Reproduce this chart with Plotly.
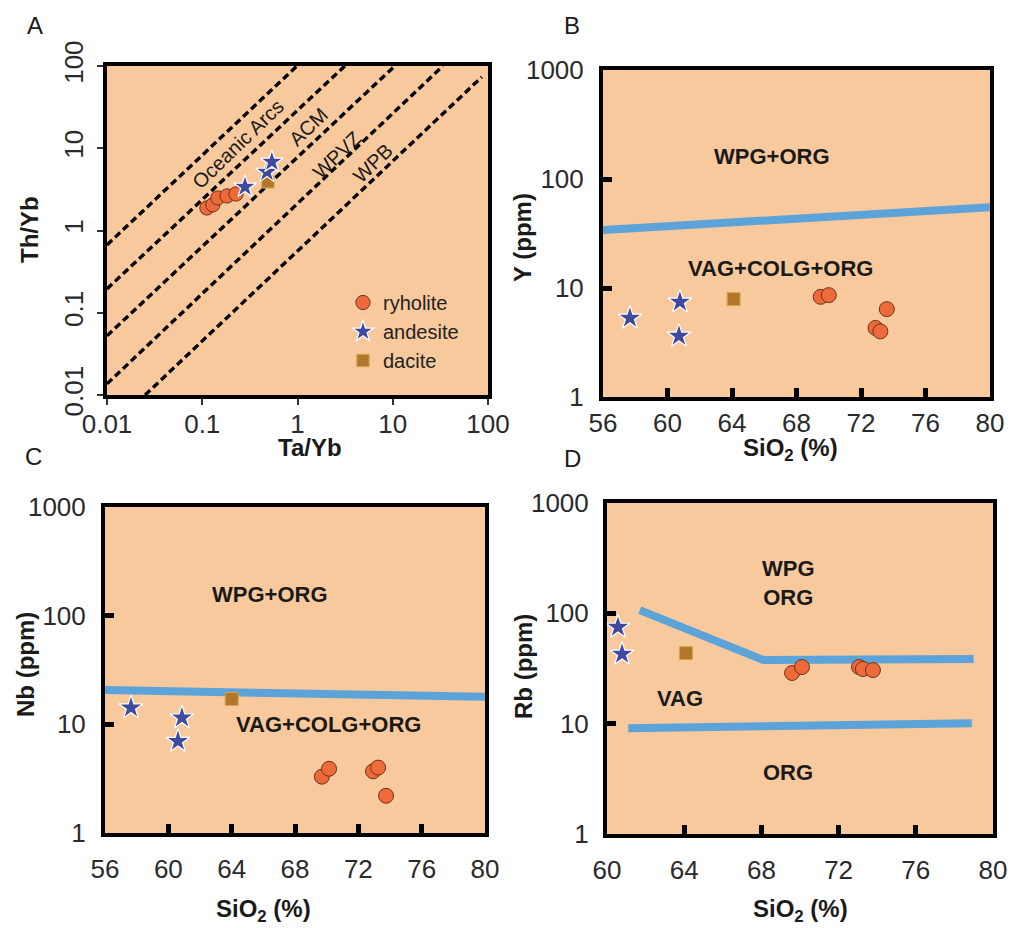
import numpy as np
import plotly.graph_objects as go

W, H = 1012, 928
FONT = "Liberation Sans, Arial, Helvetica, sans-serif"
BG = "#F8C99C"
BLUE = "#5BA3D8"
C_RHY = "#EE6A3A"
C_AND = "#3D4A9E"
C_DAC = "#B1782D"

# ---------------- Panel A : Th/Yb vs Ta/Yb ----------------
a_rhy_x = [0.112, 0.129, 0.146, 0.182, 0.226]
a_rhy_y = [1.88, 2.05, 2.49, 2.63, 2.78]
a_and_x = [0.281, 0.478, 0.538]
a_and_y = [3.39, 5.15, 6.82]
a_dac_x = [0.49]
a_dac_y = [3.9]
# dashed boundary lines (two end points each)
a_lines_x = [[0.01, 0.986], [0.01, 3.14], [0.01, 10.5], [0.01, 33.6], [0.0251, 86.1]]
a_lines_y = [[0.668, 100], [0.195, 100], [0.0524, 100], [0.01368, 100], [0.01, 73.5]]
a_labels = ["Oceanic Arcs", "ACM", "WPVZ", "WPB"]
a_lab_x = [0.237, 1.29, 2.59, 6.18]
a_lab_y = [11.3, 18.2, 8.3, 6.6]
a_ticks = [0.01, 0.1, 1, 10, 100]
a_ticktext = ["0.01", "0.1", "1", "10", "100"]

# ---------------- Panel B : Y vs SiO2 ----------------
b_rhy_x = [69.5, 70.0, 73.6, 72.9, 73.2]
b_rhy_y = [8.3, 8.6, 6.4, 4.3, 4.0]
b_and_x = [57.67, 60.77, 60.71]
b_and_y = [5.3, 7.45, 3.63]
b_dac_x = [64.1]
b_dac_y = [7.9]
b_line_x = [56, 80]
b_line_y = [34, 55]
b_labels = ["WPG+ORG", "VAG+COLG+ORG"]
b_lab_x = [66.5, 67.0]
b_lab_y = [160, 15.2]

# ---------------- Panel C : Nb vs SiO2 ----------------
c_rhy_x = [69.7, 70.15, 72.93, 73.25, 73.75]
c_rhy_y = [3.3, 3.9, 3.7, 4.0, 2.2]
c_and_x = [57.64, 60.86, 60.61]
c_and_y = [14.2, 11.5, 7.0]
c_dac_x = [64.0]
c_dac_y = [17.1]
c_line_x = [56, 80]
c_line_y = [20.7, 17.9]
c_labels = ["WPG+ORG", "VAG+COLG+ORG"]
c_lab_x = [66.4, 70.1]
c_lab_y = [155, 9.9]

# ---------------- Panel D : Rb vs SiO2 ----------------
d_rhy_x = [69.59, 70.1, 73.06, 73.26, 73.78]
d_rhy_y = [28.8, 32.6, 32.6, 31.3, 30.6]
d_and_x = [60.57, 60.78]
d_and_y = [75, 42.7]
d_dac_x = [64.09]
d_dac_y = [43.6]
d_line1_x = [61.7, 68.1, 79.0]
d_line1_y = [107, 37.8, 38.5]
d_line2_x = [61.1, 78.9]
d_line2_y = [9.1, 10.1]
d_labels = ["WPG<br>ORG", "VAG", "ORG"]
d_lab_x = [69.4, 63.8, 69.4]
d_lab_y = [188, 17, 3.6]

si_ticks_bc = [56, 60, 64, 68, 72, 76, 80]
si_ticks_d = [60, 64, 68, 72, 76, 80]
ppm_ticks = [1, 10, 100, 1000]

fig = go.Figure()

def px_dom_x(l, r):
    return [l / W, r / W]

def px_dom_y(t, b):
    return [1 - b / H, 1 - t / H]

def markers(xs, ys, kind, xa, ya, size_scale=1.0, showlegend=False, rank=None):
    if kind == "rhy":
        m = dict(symbol="circle", size=15 * size_scale, color=C_RHY,
                 line=dict(color="#6b3318", width=1))
        name = "ryholite"
    elif kind == "and":
        m = dict(symbol="star", size=18 * size_scale, color=C_AND,
                 line=dict(color="white", width=1.2))
        name = "andesite"
    else:
        m = dict(symbol="square", size=13 * size_scale, color=C_DAC,
                 line=dict(color="#D9A24E", width=1))
        name = "dacite"
    fig.add_trace(go.Scatter(x=xs, y=ys, mode="markers", marker=m, name=name,
                             xaxis=xa, yaxis=ya, showlegend=showlegend,
                             legendrank=rank if rank else 1000))

# Panel A traces
for lx, ly in zip(a_lines_x, a_lines_y):
    fig.add_trace(go.Scatter(x=lx, y=ly, mode="lines", xaxis="x", yaxis="y",
                             line=dict(color="black", width=3.4, dash="7px,4px"),
                             showlegend=False, hoverinfo="skip"))
markers(a_rhy_x, a_rhy_y, "rhy", "x", "y", 0.95, True, 1)
markers(a_dac_x, a_dac_y, "dac", "x", "y", 0.95, True, 3)
markers(a_and_x, a_and_y, "and", "x", "y", 0.95, True, 2)

# Panel B
fig.add_trace(go.Scatter(x=b_line_x, y=b_line_y, mode="lines", xaxis="x2", yaxis="y2",
                         line=dict(color=BLUE, width=8), showlegend=False))
markers(b_rhy_x, b_rhy_y, "rhy", "x2", "y2")
markers(b_dac_x, b_dac_y, "dac", "x2", "y2")
markers(b_and_x, b_and_y, "and", "x2", "y2")

# Panel C
fig.add_trace(go.Scatter(x=c_line_x, y=c_line_y, mode="lines", xaxis="x3", yaxis="y3",
                         line=dict(color=BLUE, width=8), showlegend=False))
markers(c_rhy_x, c_rhy_y, "rhy", "x3", "y3")
markers(c_dac_x, c_dac_y, "dac", "x3", "y3")
markers(c_and_x, c_and_y, "and", "x3", "y3")

# Panel D
fig.add_trace(go.Scatter(x=d_line1_x, y=d_line1_y, mode="lines", xaxis="x4", yaxis="y4",
                         line=dict(color=BLUE, width=8), showlegend=False))
fig.add_trace(go.Scatter(x=d_line2_x, y=d_line2_y, mode="lines", xaxis="x4", yaxis="y4",
                         line=dict(color=BLUE, width=8), showlegend=False))
markers(d_rhy_x, d_rhy_y, "rhy", "x4", "y4")
markers(d_dac_x, d_dac_y, "dac", "x4", "y4")
markers(d_and_x, d_and_y, "and", "x4", "y4")

tickfont = dict(family=FONT, size=26, color="#2a2a2a")
frame = dict(showline=True, linecolor="black", linewidth=4, mirror=True,
             showgrid=False, zeroline=False)

layout = dict(
    width=W, height=H, margin=dict(l=0, r=0, t=0, b=0, autoexpand=False),
    paper_bgcolor="white", plot_bgcolor=BG,
    font=dict(family=FONT, color="#222"),
    legend=dict(x=343 / W, y=1 - 283 / H, xanchor="left", yanchor="top",
                bgcolor="rgba(0,0,0,0)", font=dict(family=FONT, size=20, color="#222"),
                itemsizing="trace", tracegroupgap=0),
    xaxis=dict(frame, type="log", range=[-2, 2], domain=px_dom_x(107, 488), anchor="y",
               tickvals=a_ticks, ticktext=a_ticktext, ticks="outside", ticklen=6,
               tickwidth=1.5, tickcolor="#333", tickfont=tickfont, ticklabelstandoff=-3,
               linewidth=3.5),
    yaxis=dict(frame, type="log", range=[-2, 2], domain=px_dom_y(66, 395), anchor="x",
               tickvals=a_ticks, ticktext=a_ticktext, ticks="outside", ticklen=6,
               tickwidth=1.5, tickcolor="#333", tickfont=tickfont, tickangle=-90,
               ticklabelstandoff=4, linewidth=3.5),
)

def si_axis(dom, rng, ticks, anchor, standoff):
    return dict(frame, range=rng, domain=dom, anchor=anchor, tickvals=ticks,
                ticktext=[str(t) for t in ticks], ticks="inside", ticklen=9, tickwidth=5,
                tickcolor="black", tickfont=tickfont, ticklabelstandoff=standoff)

def ppm_axis(dom, anchor, standoff):
    return dict(frame, type="log", range=[0, 3], domain=dom, anchor=anchor,
                tickvals=ppm_ticks, ticktext=[str(t) for t in ppm_ticks], ticks="inside",
                ticklen=9, tickwidth=5, tickcolor="black", tickfont=tickfont,
                ticklabelstandoff=standoff)

layout["xaxis2"] = si_axis(px_dom_x(603, 990), [56, 80], si_ticks_bc, "y2", 0)
layout["yaxis2"] = ppm_axis(px_dom_y(70, 397), "x2", 10)
layout["xaxis3"] = si_axis(px_dom_x(105, 485), [56, 80], si_ticks_bc, "y3", 10)
layout["yaxis3"] = ppm_axis(px_dom_y(507, 833), "x3", 10)
layout["xaxis4"] = si_axis(px_dom_x(607, 993), [60, 80], si_ticks_d, "y4", 10)
layout["yaxis4"] = ppm_axis(px_dom_y(503, 834), "x4", 9)

fig.update_layout(**layout)

ann = []
def pann(text, xpx, ypx, size, bold=False, angle=0):
    ann.append(dict(text=f"<b>{text}</b>" if bold else text, x=xpx / W, y=1 - ypx / H,
                    xref="paper", yref="paper", showarrow=False, textangle=angle,
                    xanchor="center", yanchor="middle",
                    font=dict(family=FONT, size=size, color="#1a1a1a")))

# panel letters
pann("A", 35, 25, 24)
pann("B", 572, 25, 24)
pann("C", 33, 456, 24)
pann("D", 572, 458, 24)
# axis titles
pann("Ta/Yb", 310, 447, 24, True)
pann("Th/Yb", 30, 230, 24, True, -90)
pann("SiO<sub>2</sub> (%)", 790, 449, 24, True)
pann("Y (ppm)", 522, 238, 24, True, -90)
pann("SiO<sub>2</sub> (%)", 263, 910, 24, True)
pann("Nb (ppm)", 25, 665, 24, True, -90)
pann("SiO<sub>2</sub> (%)", 800, 910, 24, True)
pann("Rb (ppm)", 523, 667, 24, True, -90)

def dann(texts, xs, ys, xa, ya, size, bold=True, angle=0, logx=False):
    for t, xv, yv in zip(texts, xs, ys):
        ann.append(dict(text=f"<b>{t}</b>" if bold else t,
                        x=np.log10(xv) if logx else xv, y=np.log10(yv),
                        xref=xa, yref=ya, showarrow=False, textangle=angle,
                        xanchor="center", yanchor="middle",
                        font=dict(family=FONT, size=size, color="#1a1a1a")))

dann(a_labels, a_lab_x, a_lab_y, "x", "y", 20, bold=False, angle=-44, logx=True)
dann(b_labels, b_lab_x, b_lab_y, "x2", "y2", 22)
dann(c_labels, c_lab_x, c_lab_y, "x3", "y3", 22)
dann(d_labels, d_lab_x, d_lab_y, "x4", "y4", 22)

fig.update_layout(annotations=ann)
fig.write_html("out.html", config={"displayModeBar": False},
               post_script="document.body.style.margin='0px';"
                           "document.body.style.overflow='hidden';")
